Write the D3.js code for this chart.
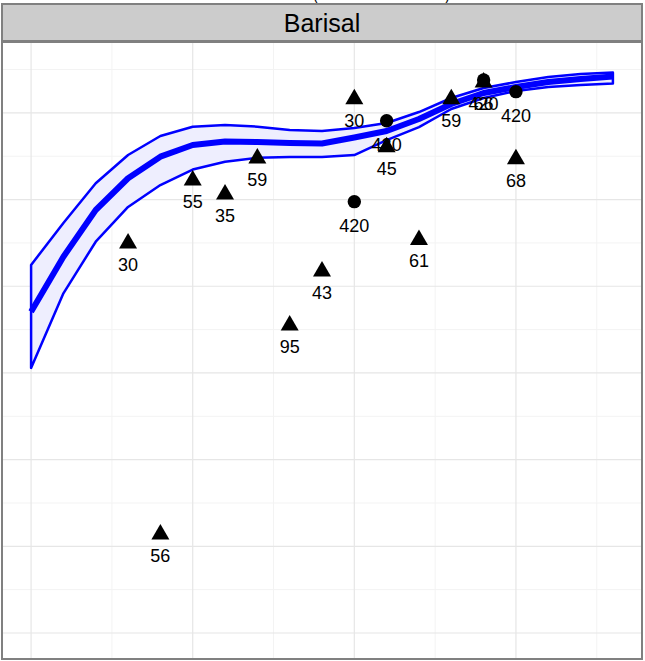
<!DOCTYPE html>
<html>
<head>
<meta charset="utf-8">
<script src="https://cdn.jsdelivr.net/npm/d3@7"></script>
<style>
  html, body { margin: 0; padding: 0; background: #ffffff; }
  svg { display: block; font-family: "Liberation Sans", Arial, Helvetica, sans-serif; }
</style>
</head>
<body>
<script>
// ---- data ----
const panelTitle = "Barisal";
const plotTitle = "(95% confidence band)";

// fitted curve with band
const bandX      = [0, 2, 4, 6, 8, 10, 12, 14, 16, 18, 20, 22, 24, 26, 28, 30, 32, 34, 36];
const bandFit    = [0.707, 1.341, 1.880, 2.246, 2.495, 2.630, 2.670, 2.664, 2.653, 2.647, 2.716, 2.791, 2.930, 3.103, 3.230, 3.299, 3.356, 3.391, 3.420];
const bandUpper  = [1.246, 1.730, 2.188, 2.514, 2.734, 2.841, 2.860, 2.841, 2.803, 2.791, 2.826, 2.884, 3.010, 3.172, 3.287, 3.356, 3.414, 3.449, 3.466];
const bandLower  = [0.058, 0.919, 1.514, 1.915, 2.168, 2.347, 2.437, 2.483, 2.491, 2.491, 2.514, 2.687, 2.837, 3.045, 3.172, 3.253, 3.299, 3.322, 3.339];

// triangle points
const triX     = [6, 8, 10, 12, 14, 16, 18, 20, 22, 24, 26, 28, 30];
const triY     = [1.522, -1.834, 2.249, 2.088, 2.503, 0.577, 1.200, 3.187, 2.633, 1.563, 3.187, 3.380, 2.495];
const triLabel = ["30", "56", "55", "35", "59", "95", "43", "30", "45", "61", "59", "66", "68"];

// circle points
const cirX     = [20, 22, 28, 30];
const cirY     = [1.976, 2.910, 3.380, 3.245];
const cirLabel = ["420", "420", "420", "420"];

// grid breaks
const xMajor = [0, 10, 20, 30];
const xMinor = [5, 15, 25, 35];
const yMajor = [-3, -2, -1, 0, 1, 2, 3];
const yMinor = [-2.5, -1.5, -0.5, 0.5, 1.5, 2.5, 3.5];

// ---- layout ----
const W = 645, H = 661;
const panel = { left: 2, right: 642, top: 42, bottom: 659 };
const strip = { top: 4, bottom: 41 };

const svg = d3.select("body").append("svg").attr("width", W).attr("height", H);

const x = d3.scaleLinear().domain([-1.8, 37.8]).range([panel.left, panel.right]);
const y = d3.scaleLinear().domain([-3.3, 3.818]).range([panel.bottom, panel.top]);

// title (mostly cut off at the top)
svg.append("text")
  .attr("x", 313).attr("y", -1.5)
  .attr("font-size", 18)
  .attr("textLength", 137)
  .attr("lengthAdjust", "spacingAndGlyphs")
  .attr("fill", "#000")
  .text(plotTitle);

// panel background
svg.append("rect")
  .attr("x", panel.left).attr("y", panel.top)
  .attr("width", panel.right - panel.left).attr("height", panel.bottom - panel.top)
  .attr("fill", "#ffffff");

svg.append("clipPath").attr("id", "pclip").append("rect")
  .attr("x", panel.left).attr("y", panel.top)
  .attr("width", panel.right - panel.left).attr("height", panel.bottom - panel.top);

const g = svg.append("g").attr("clip-path", "url(#pclip)");

// grid
g.selectAll(".xmin").data(xMinor).join("line")
  .attr("x1", d => x(d)).attr("x2", d => x(d))
  .attr("y1", panel.top).attr("y2", panel.bottom)
  .attr("stroke", "#f3f3f3").attr("stroke-width", 1);
g.selectAll(".ymin").data(yMinor).join("line")
  .attr("y1", d => y(d)).attr("y2", d => y(d))
  .attr("x1", panel.left).attr("x2", panel.right)
  .attr("stroke", "#f3f3f3").attr("stroke-width", 1);
g.selectAll(".xmaj").data(xMajor).join("line")
  .attr("x1", d => x(d)).attr("x2", d => x(d))
  .attr("y1", panel.top).attr("y2", panel.bottom)
  .attr("stroke", "#e6e6e6").attr("stroke-width", 1.2);
g.selectAll(".ymaj").data(yMajor).join("line")
  .attr("y1", d => y(d)).attr("y2", d => y(d))
  .attr("x1", panel.left).attr("x2", panel.right)
  .attr("stroke", "#e6e6e6").attr("stroke-width", 1.2);

// band
const bandData = bandX.map((d, i) => ({ x: d, fit: bandFit[i], lo: bandLower[i], hi: bandUpper[i] }));
const area = d3.area().x(d => x(d.x)).y0(d => y(d.lo)).y1(d => y(d.hi));
g.append("path").datum(bandData)
  .attr("d", area)
  .attr("fill", "#eeeefe")
  .attr("stroke", "#0000ff").attr("stroke-width", 2.5).attr("stroke-linejoin", "round");
g.append("path").datum(bandData)
  .attr("d", d3.line().x(d => x(d.x)).y(d => y(d.fit)))
  .attr("fill", "none")
  .attr("stroke", "#0000ff").attr("stroke-width", 6).attr("stroke-linejoin", "round");

// triangle symbol
const triSym = {
  draw(ctx, size) {
    ctx.moveTo(0, -8);
    ctx.lineTo(9, 7.5);
    ctx.lineTo(-9, 7.5);
    ctx.closePath();
  }
};

const tris = triX.map((d, i) => ({ x: d, y: triY[i], label: triLabel[i] }));
const cirs = cirX.map((d, i) => ({ x: d, y: cirY[i], label: cirLabel[i] }));

g.selectAll(".tri").data(tris).join("path")
  .attr("transform", d => `translate(${x(d.x)},${y(d.y)})`)
  .attr("d", d3.symbol().type(triSym))
  .attr("fill", "#000");

g.selectAll(".cir").data(cirs).join("circle")
  .attr("cx", d => x(d.x)).attr("cy", d => y(d.y)).attr("r", 6.7)
  .attr("fill", "#000");

const labels = tris.concat(cirs);
g.selectAll(".lab").data(labels).join("text")
  .attr("x", d => x(d.x)).attr("y", d => y(d.y) + 30)
  .attr("text-anchor", "middle")
  .attr("font-size", 18)
  .attr("fill", "#000")
  .text(d => d.label);

// panel border
svg.append("rect")
  .attr("x", panel.left).attr("y", panel.top)
  .attr("width", panel.right - panel.left).attr("height", panel.bottom - panel.top)
  .attr("fill", "none").attr("stroke", "#808080").attr("stroke-width", 2);

// strip
svg.append("rect")
  .attr("x", panel.left).attr("y", strip.top)
  .attr("width", panel.right - panel.left).attr("height", strip.bottom - strip.top)
  .attr("fill", "#cccccc").attr("stroke", "#808080").attr("stroke-width", 2);
svg.append("text")
  .attr("x", (panel.left + panel.right) / 2).attr("y", (strip.top + strip.bottom) / 2 + 9)
  .attr("text-anchor", "middle")
  .attr("font-size", 25)
  .attr("fill", "#000")
  .text(panelTitle);
</script>
</body>
</html>
